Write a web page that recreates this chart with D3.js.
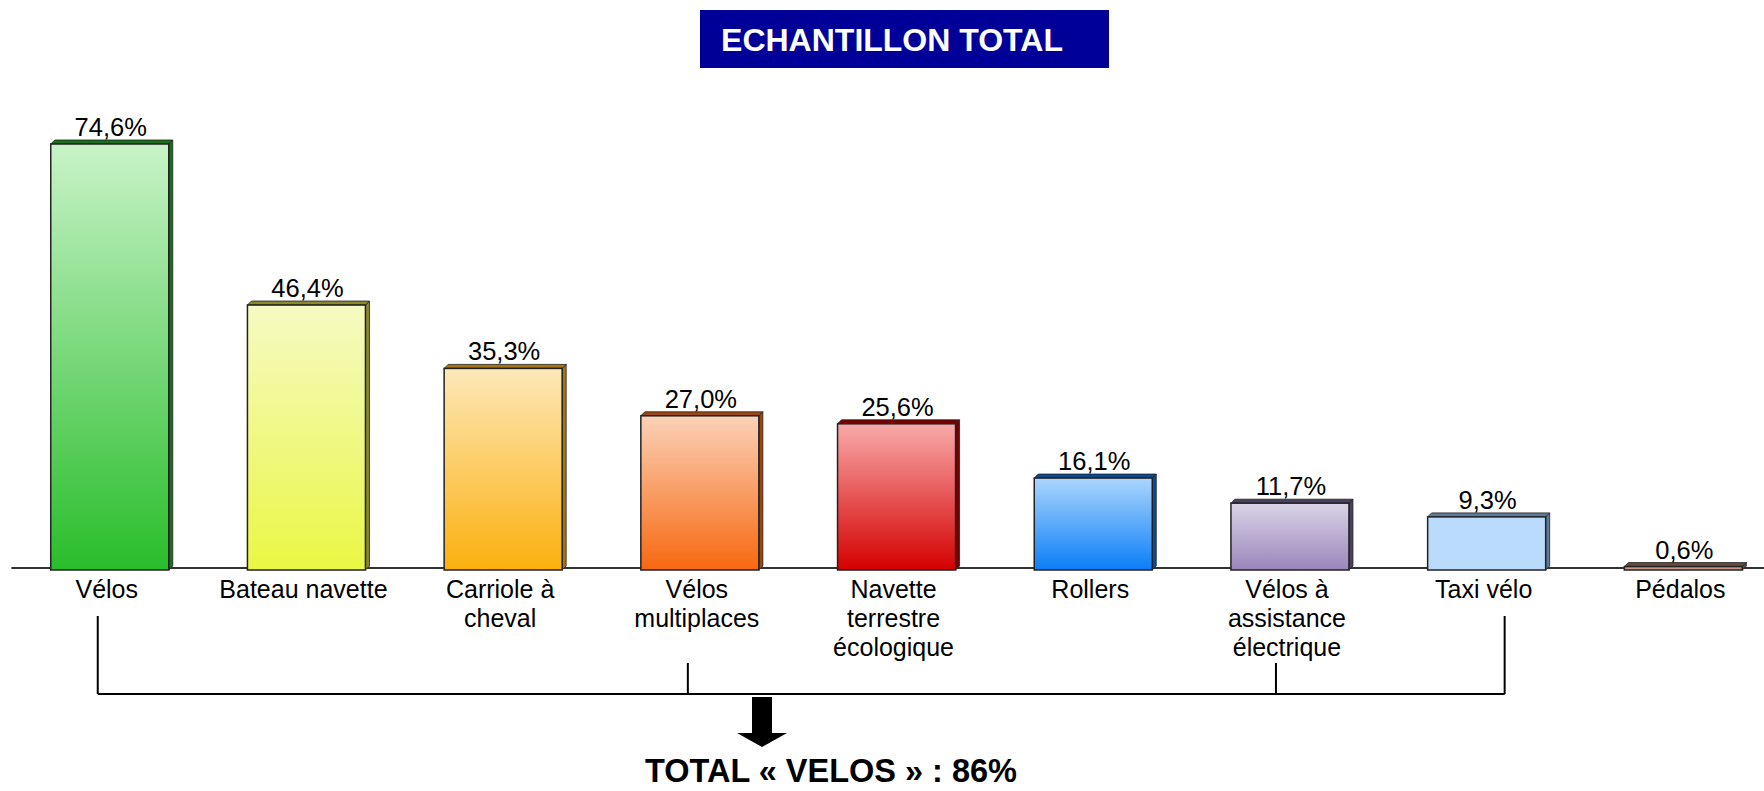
<!DOCTYPE html>
<html>
  <head>
    <meta charset="utf-8">
    <script src="https://cdn.jsdelivr.net/npm/d3@7"></script>
    <style>
      body { margin: 0; background: #fff; }
      text { font-family: 'Liberation Sans', Arial, sans-serif; }
    </style>
  </head>
  <body>
    <svg width="1764" height="791"></svg>
    <script>
      const categories = ['Vélos', 'Bateau navette', 'Carriole à cheval', 'Vélos multiplaces',
        'Navette terrestre écologique', 'Rollers', 'Vélos à assistance électrique', 'Taxi vélo', 'Pédalos'];
      const labelLines = [['Vélos'], ['Bateau navette'], ['Carriole à', 'cheval'], ['Vélos', 'multiplaces'],
        ['Navette', 'terrestre', 'écologique'], ['Rollers'], ['Vélos à', 'assistance', 'électrique'], ['Taxi vélo'], ['Pédalos']];
      const values = [74.6, 46.4, 35.3, 27.0, 25.6, 16.1, 11.7, 9.3, 0.6];
      const valueLabels = ['74,6%', '46,4%', '35,3%', '27,0%', '25,6%', '16,1%', '11,7%', '9,3%', '0,6%'];
      const topColors = ['#c8f3c8', '#f6fac4', '#fde8b8', '#fbd1b8', '#f9aaaa', '#acd6fc', '#dad4e8', '#badbfc', '#c9968b'];
      const bottomColors = ['#29bd2b', '#eaf744', '#fbb00e', '#f76810', '#d40000', '#0a7ef8', '#9a85b9', '#badbfc', '#c9968b'];
      const sideColors = ['#1b6e1b', '#8a8a2a', '#a8740e', '#9c4610', '#780000', '#0b4a90', '#4a4062', '#5b7b9b', '#6a4a40'];
      const bracketCats = ['Vélos', 'Vélos multiplaces', 'Vélos à assistance électrique', 'Taxi vélo'];
      const title = 'ECHANTILLON TOTAL';
      const totalLabel = 'TOTAL « VELOS » : 86%';

      const svg = d3.select('svg');
      const width = +svg.attr('width');
      const depth = 4;

      const data = categories.map((c, i) => ({
        cat: c, value: values[i], label: valueLabels[i], lines: labelLines[i],
        top: topColors[i], bottom: bottomColors[i], side: sideColors[i], i: i
      }));

      const x = d3.scaleBand()
        .domain(categories)
        .range([11.4, 1781.7])
        .paddingInner(0.4)
        .paddingOuter(0.2);

      const y = d3.scaleLinear()
        .domain([0, 74.6])
        .range([570, 144]);

      // gradients
      const defs = svg.append('defs');
      data.forEach(d => {
        const grad = defs.append('linearGradient')
          .attr('id', 'grad' + d.i)
          .attr('x1', 0).attr('y1', 0).attr('x2', 0).attr('y2', 1);
        grad.append('stop').attr('offset', '0%').attr('stop-color', d.top);
        grad.append('stop').attr('offset', '100%').attr('stop-color', d.bottom);
      });

      // title box
      svg.append('rect')
        .attr('x', 700).attr('y', 10)
        .attr('width', 409).attr('height', 58)
        .attr('fill', '#000099');
      svg.append('text')
        .attr('x', 892).attr('y', 51)
        .attr('text-anchor', 'middle')
        .attr('fill', '#fff')
        .attr('font-weight', 'bold')
        .attr('font-size', 32)
        .text(title);

      // axis line
      svg.append('line')
        .attr('x1', x.range()[0]).attr('x2', width)
        .attr('y1', y(0) - 2).attr('y2', y(0) - 2)
        .attr('stroke', '#333')
        .attr('stroke-width', 1.8);

      const bars = svg.append('g').selectAll('g')
        .data(data)
        .join('g');

      // side face
      bars.append('path')
        .attr('d', d => {
          const x1 = x(d.cat) + x.bandwidth();
          const yt = y(d.value), yb = y(0);
          return `M${x1},${yt} L${x1 + depth},${yt - depth} L${x1 + depth},${yb - depth} L${x1},${yb} Z`;
        })
        .attr('fill', d => d.side)
        .attr('stroke', '#222')
        .attr('stroke-width', 0.8);

      // top face
      bars.append('path')
        .attr('d', d => {
          const x0 = x(d.cat), x1 = x0 + x.bandwidth();
          const yt = y(d.value);
          return `M${x0},${yt} L${x0 + depth},${yt - depth} L${x1 + depth},${yt - depth} L${x1},${yt} Z`;
        })
        .attr('fill', d => d.side)
        .attr('stroke', '#222')
        .attr('stroke-width', 0.8);

      // front face
      bars.append('rect')
        .attr('x', d => x(d.cat))
        .attr('y', d => y(d.value))
        .attr('width', x.bandwidth())
        .attr('height', d => y(0) - y(d.value))
        .attr('fill', d => `url(#grad${d.i})`)
        .attr('stroke', '#222')
        .attr('stroke-width', 1.5);

      // value labels
      bars.append('text')
        .attr('x', d => x(d.cat) + x.bandwidth() / 2 + 1)
        .attr('y', d => y(d.value) - 8)
        .attr('text-anchor', 'middle')
        .attr('font-size', 25.5)
        .attr('fill', '#000')
        .text(d => d.label);

      // category labels
      bars.append('text')
        .attr('text-anchor', 'middle')
        .attr('font-size', 25)
        .attr('fill', '#000')
        .selectAll('tspan')
        .data(d => d.lines.map(l => ({ l: l, cx: x(d.cat) + x.bandwidth() / 2 - 3 })))
        .join('tspan')
        .attr('x', t => t.cx)
        .attr('y', (t, j) => 598 + j * 29)
        .text(t => t.l);

      // bracket grouping the bike categories
      const bracketDx = [-12, -12, -14, 18];
      const bracketY = 694;
      const bx = bracketCats.map((c, j) => x(c) + x.bandwidth() / 2 + bracketDx[j]);
      const bg = svg.append('g')
        .attr('stroke', '#000')
        .attr('stroke-width', 2)
        .attr('fill', 'none');
      bg.append('line')
        .attr('x1', bx[0]).attr('x2', bx[bx.length - 1])
        .attr('y1', bracketY).attr('y2', bracketY);
      bx.forEach((v, j) => {
        const isEnd = j === 0 || j === bx.length - 1;
        bg.append('line')
          .attr('x1', v).attr('x2', v)
          .attr('y1', isEnd ? 616 : 663).attr('y2', bracketY);
      });

      // arrow
      const ax = 762;
      svg.append('path')
        .attr('d', `M${ax - 10},697 L${ax + 10},697 L${ax + 10},733 L${ax + 25},733 L${ax},747 L${ax - 25},733 L${ax - 10},733 Z`)
        .attr('fill', '#000');

      svg.append('text')
        .attr('x', 831).attr('y', 782)
        .attr('text-anchor', 'middle')
        .attr('font-weight', 'bold')
        .attr('font-size', 32.5)
        .attr('fill', '#000')
        .text(totalLabel);
    </script>
  </body>
</html>
